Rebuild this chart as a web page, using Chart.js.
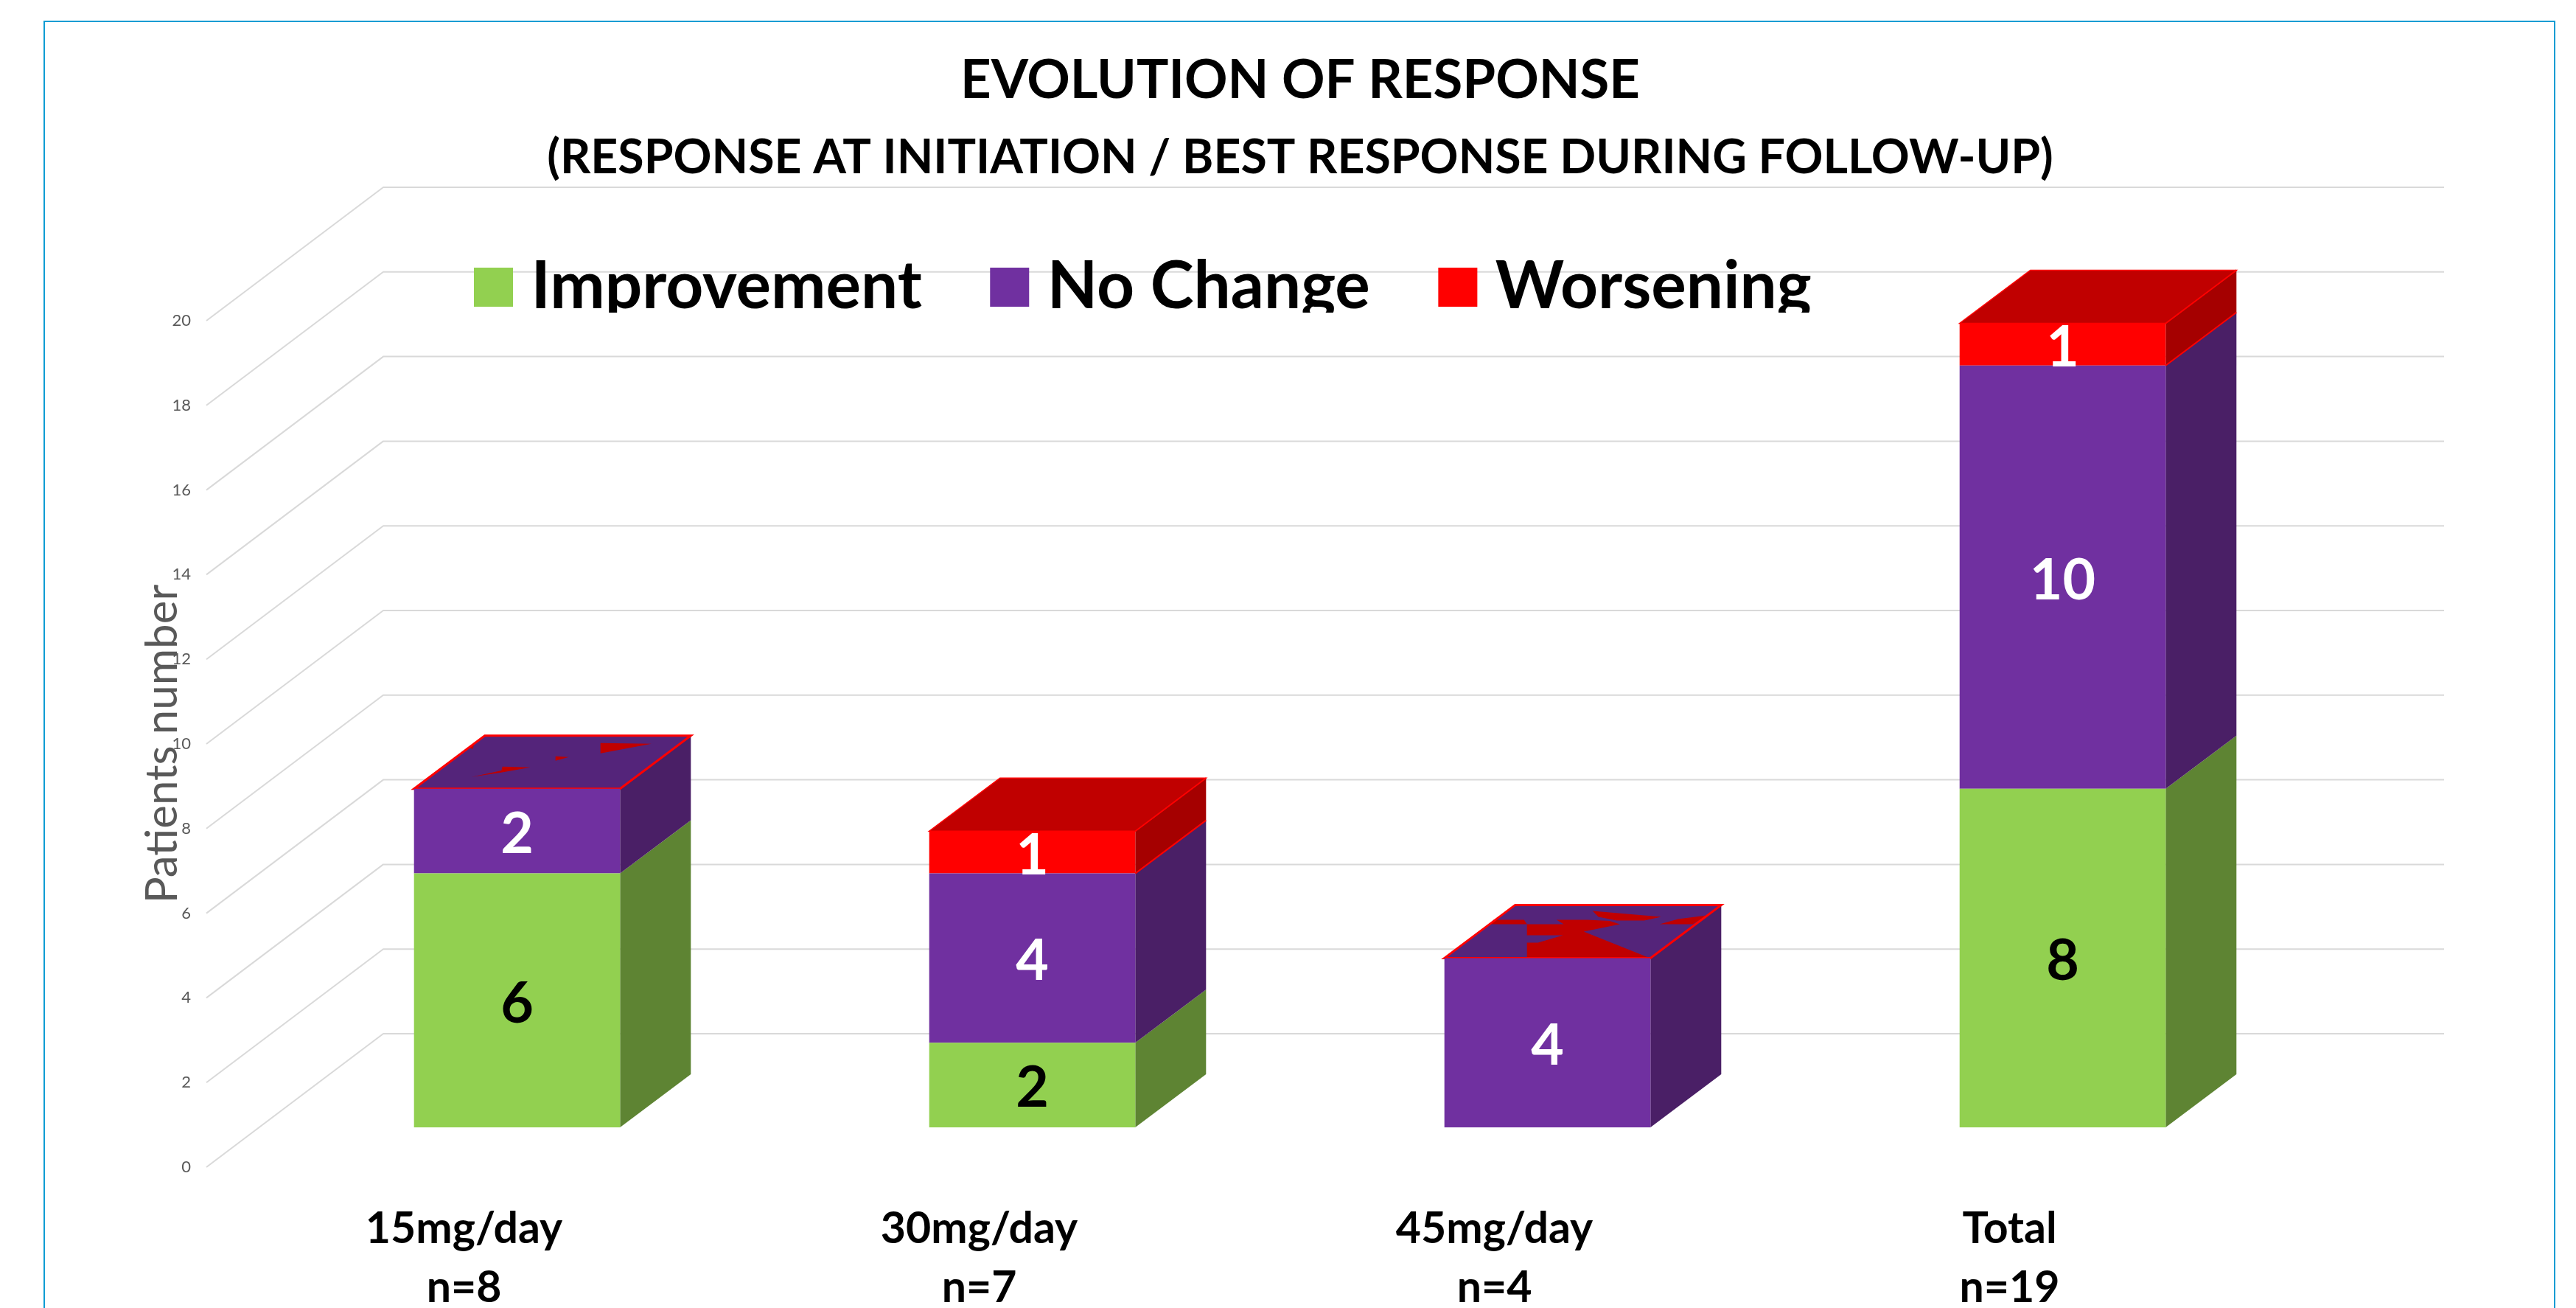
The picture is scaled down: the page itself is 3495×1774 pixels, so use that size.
<!DOCTYPE html>
<html>
<head>
<meta charset="utf-8">
<style>html,body{margin:0;padding:0;background:#fff}canvas{display:block}</style>
<script src="https://cdn.jsdelivr.net/npm/chart.js@4"></script>
</head>
<body>
<div style="width:3495px;height:1774px"><canvas id="c" width="3495" height="1774"></canvas></div>
<script>
const titleLine = 'EVOLUTION OF RESPONSE';
const subtitleLine = '(RESPONSE AT INITIATION / BEST RESPONSE DURING FOLLOW-UP)';
const yAxisTitle = 'Patients number';
const categories = [['15mg/day','n=8'],['30mg/day','n=7'],['45mg/day','n=4'],['Total','n=19']];
const improvement = [6,2,0,8];
const noChange = [2,4,4,10];
const worsening = [0,1,0,1];

const FONT = 'Lato, Carlito, Calibri, sans-serif';
const GREEN='#92D050', PURPLE='#7030A0', RED='#FF0000';
const SIDE = {[GREEN]:'#5E8433',[PURPLE]:'#4A1F66',[RED]:'#A50000'};
const TOP = {[GREEN]:'#74A63E',[PURPLE]:'#54247A',[RED]:'#C00000'};

// 3D look of the plot: wall depth and bar depth, in pixels
const WALL = {dx:240, dy:181, rightEnd:3316};
const FLOOR = {dx:72, dy:54};
const BAR = {dx:96, dy:72};

// stray rendering fragments on the empty top faces, as offsets from the bar's top-left corner
const topFragments = {
  0:[[[253,-62],[322,-61],[253,-48]],[[120,-30],[158,-29],[118,-22]],[[192,-44],[210,-43],[192,-38]],[[78,-16],[97,-20],[120,-25],[118,-22]],[[73,-56],[81,-59],[80,-54]]],
  2:[[[201,-64],[294,-56],[271,-51],[234,-51],[209,-56]],
     [[152,-52],[194,-52],[224,-50.5],[238,-46],[189,-36],[279,0],[112,0],[112,-21],[127,-21],[161,-31],[112,-31],[112,-46],[162,-46]],
     [[62,-46],[67,-52],[108,-52],[112,-46]],
     [[292,-46],[317,-53],[356,-58],[337,-46]]]
};

function poly(ctx, pts, fill, stroke, lw){
  ctx.beginPath();
  pts.forEach((p,i)=> i?ctx.lineTo(p[0],p[1]):ctx.moveTo(p[0],p[1]));
  ctx.closePath();
  if(fill){ctx.fillStyle=fill;ctx.fill();}
  if(stroke){ctx.strokeStyle=stroke;ctx.lineWidth=lw;ctx.stroke();}
}

const frame3d = {
  id:'frame3d',
  beforeLayout(chart){
    // legend sits inside the plot but lays its items out in one row
    chart.legend.isHorizontal = ()=>true;
  },
  afterLayout(chart){
    // centre the title blocks over the frame, and place the legend above the plot
    chart.boxes.forEach(b=>{
      if(b.options && typeof b.options.text==='string'){b.left+=226;b.right+=226;}
    });
    const lg = chart.legend, pad = lg.options.labels.padding;
    lg.left = 663-pad; lg.right = 3300; lg.top = 345-pad; lg.bottom = 440;
    lg.adjustHitBoxes();
    if(!lg._clipped){
      const d = lg.draw.bind(lg);
      lg.draw = function(){
        const ctx = chart.ctx; ctx.save();
        ctx.beginPath(); ctx.rect(0,0,3495,424); ctx.clip();
        d(); ctx.restore();
      };
      lg._clipped = true;
    }
  },
  beforeDraw(chart){
    const ctx = chart.ctx;
    ctx.save();
    ctx.fillStyle='#fff'; ctx.fillRect(0,0,3495,1774);
    ctx.strokeStyle='#0E9CD3'; ctx.lineWidth=2;
    ctx.strokeRect(60,29,3406,2000);
    // floor-to-wall gridlines
    const y = chart.scales.y, L = chart.chartArea.left;
    ctx.strokeStyle='#D9D9D9'; ctx.lineWidth=2; ctx.lineJoin='round';
    y.ticks.forEach(t=>{
      const py = y.getPixelForValue(t.value);
      ctx.beginPath();
      ctx.moveTo(L,py);
      ctx.lineTo(L+WALL.dx,py-WALL.dy);
      ctx.lineTo(WALL.rightEnd,py-WALL.dy);
      ctx.stroke();
    });
    ctx.restore();
  },
  beforeDatasetsDraw(chart){
    const ctx = chart.ctx;
    ctx.save();
    ctx.translate(FLOOR.dx,-FLOOR.dy);
    // side faces, bottom to top
    chart.data.datasets.forEach((ds,di)=>{
      chart.getDatasetMeta(di).data.forEach((el,i)=>{
        if(!ds.data[i]) return;
        const r = el.x+el.width/2, t = el.y, b = el.base;
        poly(ctx,[[r,b],[r+BAR.dx,b-BAR.dy],[r+BAR.dx,t-BAR.dy],[r,t]],SIDE[ds.backgroundColor]);
        if(ds.backgroundColor===RED){
          ctx.strokeStyle=RED; ctx.lineWidth=2;
          ctx.beginPath();
          ctx.moveTo(r,t);ctx.lineTo(r+BAR.dx,t-BAR.dy);
          ctx.moveTo(r,b);ctx.lineTo(r+BAR.dx,b-BAR.dy);
          ctx.stroke();
        }
      });
    });
    // top faces
    categories.forEach((_,i)=>{
      const top = chart.getDatasetMeta(2).data[i];
      const hasRed = worsening[i]>0;
      const fill = hasRed?TOP[RED]:TOP[PURPLE];
      const l = top.x-top.width/2, r = top.x+top.width/2, t = top.y;
      const face = [[l,t],[r,t],[r+BAR.dx,t-BAR.dy],[l+BAR.dx,t-BAR.dy]];
      poly(ctx,face,fill);
      (topFragments[i]||[]).forEach(f=>poly(ctx,f.map(p=>[l+p[0],t+p[1]]),TOP[RED]));
      poly(ctx,face,null,RED,hasRed?1.5:3);
    });
  },
  afterDatasetsDraw(chart){
    const ctx = chart.ctx;
    // data labels centred on each visible segment
    ctx.textAlign='center'; ctx.textBaseline='middle';
    ctx.font='bold 77px '+FONT;
    chart.data.datasets.forEach((ds,di)=>{
      chart.getDatasetMeta(di).data.forEach((el,i)=>{
        if(!ds.data[i]) return;
        ctx.fillStyle = ds.backgroundColor===GREEN?'#000':'#fff';
        ctx.fillText(String(ds.data[i]),el.x,(el.y+el.base)/2+5);
      });
    });
    ctx.restore();
  }
};

new Chart(document.getElementById('c'),{
  type:'bar',
  data:{
    labels:categories,
    datasets:[
      {label:'Improvement',data:improvement,backgroundColor:GREEN},
      {label:'No Change',data:noChange,backgroundColor:PURPLE},
      {label:'Worsening',data:worsening,backgroundColor:RED}
    ]
  },
  plugins:[frame3d],
  options:{
    responsive:false,
    animation:false,
    layout:{padding:{left:0,right:419,top:0,bottom:0}},
    datasets:{bar:{categoryPercentage:0.4,barPercentage:1,borderWidth:0,clip:false}},
    plugins:{
      title:{display:true,text:titleLine,color:'#000',
        font:{family:FONT,size:72.5,weight:'bold',lineHeight:1.2},padding:{top:66,bottom:0}},
      subtitle:{display:true,text:subtitleLine,color:'#000',
        font:{family:FONT,size:64.4,weight:'bold',lineHeight:1.2},padding:{top:22.6,bottom:182.1}},
      legend:{display:true,position:'chartArea',align:'start',
        labels:{color:'#000',boxWidth:13,boxHeight:13,padding:112.5,
          font:{family:FONT,size:89,weight:'bold'},
          generateLabels(chart){
            return chart.data.datasets.map((d,i)=>({text:d.label,fillStyle:d.backgroundColor,strokeStyle:d.backgroundColor,lineWidth:40,datasetIndex:i,hidden:false}));
          }}},
      tooltip:{enabled:false}
    },
    scales:{
      x:{stacked:true,
        grid:{display:false,drawTicks:false},border:{display:false},
        ticks:{color:'#000',padding:44,maxRotation:0,autoSkip:false,
          font:{family:FONT,size:59,weight:'bold',lineHeight:1.356}},
        afterFit(s){s.height=191;}},
      y:{stacked:true,min:0,max:20,
        grid:{display:false,drawTicks:false},border:{display:false},
        ticks:{stepSize:2,color:'#595959',padding:21,font:{family:FONT,size:22}},
        title:{display:true,text:yAxisTitle,color:'#595959',font:{family:FONT,size:60,lineHeight:1.2},padding:{top:185,bottom:0}},
        afterFit(s){s.width=280;}}
    }
  }
});
</script>
</body>
</html>
